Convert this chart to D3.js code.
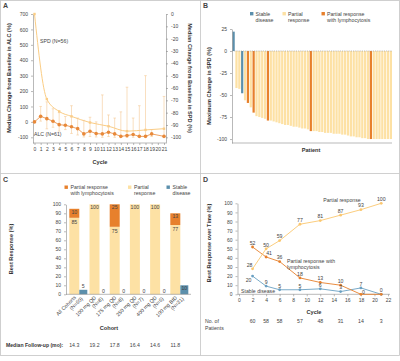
<!DOCTYPE html>
<html><head><meta charset="utf-8">
<script src="https://cdn.jsdelivr.net/npm/d3@7"></script>
<style>
body{margin:0;background:#fff}
svg{display:block}
text{font-family:"Liberation Sans",Arial,sans-serif;fill:#333}
.ax path,.ax line{stroke:#8a8a8a;stroke-width:0.6;fill:none}
.ax text{font-size:5px;fill:#444}
.ttl{font-size:5.6px;font-weight:bold;fill:#333}
.lbl{font-size:5.2px;fill:#444}
.plet{font-size:7px;font-weight:bold;fill:#444}
</style>
</head><body>
<svg id="c" width="400" height="361"></svg>
<script>
// ---------- Panel A data ----------
const cycleTicksA = [0,1,2,3,4,5,6,7,8,9,10,11,12,13,14,15,16,17,18,19,20,21];
const alcTicks = [-100,0,100,200,300,400,500,600,700];
const spdTicks = [0,-10,-20,-30,-40,-50,-60,-70,-80,-90,-100];
const alcCycles = [0,1,2,3,4,5,6,7,8,9,10,11,12,13,14,15,16,17,18,19,21];
const alcMedian = [0,36,21,4,-18,-22,-32,-44,-78,-61,-76,-78,-67,-78,-94,-89,-82,-94,-94,-78,-94];
const alcLow    = [0,5,-45,-35,-60,-50,-75,-85,-98,-95,-98,-100,-95,-100,-100,-100,-100,-100,-100,-95,-100];
const alcHigh   = [0,100,130,85,60,35,105,25,10,30,0,175,45,25,65,225,25,105,300,-50,165];
const spdCycles = [0,2,4,6,9,12,15,18,21];
const spdMedian = [0,-69,-79,-83,-88,-91,-95,-94,-93];

// ---------- Panel B data ----------
const waterfallChange = [22,-42,-43,-48,-56,-59,-64,-70,-74,-75,-76,-77,-79,-79,-80,-81,-82,-83,-84,-84,-85,-86,-86,-87,-88,-88,-89,-91,-91,-91,-92,-92,-93,-93,-93,-94,-94,-94,-95,-95,-96,-97,-97,-98,-98,-99,-99,-100,-100,-100,-100,-100,-100,-100,-100,-100];
const waterfallStatus = ["SD","PR","PR","SD","PR","PRL","PR","PRL","PR","PR","PR","PR","PRL","PR","PR","PR","PR","PR","PR","PR","PR","PR","PR","PR","PR","PR","PR","PRL","PR","PR","PR","PR","PR","PR","PR","PR","PR","PR","PR","PR","PR","PR","PR","PR","PR","PR","PR","PR","PRL","PR","PR","PR","PR","PR","PR","PR"];
const waterfallTicks = [25,0,-25,-50,-75,-100];

// ---------- Panel C data ----------
const cohortLine1 = ["All Cohorts","100 mg QD","175 mg QD","250 mg QD","400 mg QD","100 mg BID"];
const cohortLine2 = ["(N=60)","(N=8)","(N=8)","(N=7)","(N=6)","(N=31)"];
const cohortPR  = [85,100,75,100,100,77];
const cohortPRL = [10,0,25,0,0,13];
const cohortSD  = [5,0,0,0,0,10];
const followUp  = ["14.3","19.2","17.8","16.4","14.6","11.8"];
const pctTicks = [0,10,20,30,40,50,60,70,80,90,100];

// ---------- Panel D data ----------
const timeCycles = [2,4,6,9,12,15,18,21];
const timePR  = [28,50,59,77,81,87,93,100];
const timePRL = [52,41,36,18,13,10,0,0];
const timeSD  = [20,9,5,5,6,3,7,0];
const nPatients = [60,58,58,57,48,31,14,3];
const cycleTicksD = [0,2,4,6,8,10,12,14,16,18,20,22];

const C_PR = "#fde1a4", C_PRL = "#e7802c", C_SD = "#5b8fac";
const C_ALC = "#e8893a", C_SPD = "#fbcd84", C_ERR = "#f5c995";

const svg = d3.select("#c");
const fmt = d => String(d);

// frame
svg.append("rect").attr("x",0.5).attr("y",0.5).attr("width",399).attr("height",355)
  .attr("fill","none").attr("stroke","#c4c4c4").attr("stroke-width",0.8);
svg.append("line").attr("x1",200.5).attr("x2",200.5).attr("y1",0.5).attr("y2",355.5).attr("stroke","#c4c4c4").attr("stroke-width",0.8);
svg.append("line").attr("x1",0.5).attr("x2",399.5).attr("y1",173.5).attr("y2",173.5).attr("stroke","#c4c4c4").attr("stroke-width",0.8);

[["A",3,8],["B",203,8],["C",3,182],["D",203,182]].forEach(([t,x,y])=>
  svg.append("text").attr("class","plet").attr("x",x).attr("y",y).text(t));

// ================= Panel A =================
{
  const xA = d3.scaleLinear().domain([0,21]).range([34.5,164]);
  const yA = d3.scaleLinear().domain([-137,700]).range([143,14]);
  const yA2 = d3.scaleLinear().domain([-104.6,0]).range([143,14]);
  const g = svg.append("g");
  g.append("g").attr("class","ax").attr("transform","translate(33,0)")
    .call(d3.axisLeft(yA).tickValues(alcTicks).tickSize(2).tickSizeOuter(0).tickFormat(fmt));
  g.append("g").attr("class","ax").attr("transform","translate(166,0)")
    .call(d3.axisRight(yA2).tickValues(spdTicks).tickSize(2).tickSizeOuter(0).tickFormat(fmt));
  const xa = g.append("g").attr("class","ax").attr("transform","translate(0,143)")
    .call(d3.axisBottom(xA).tickValues(cycleTicksA).tickSize(2).tickSizeOuter(0).tickFormat(fmt));
  xa.select(".domain").attr("d","M33,0H166");
  xa.selectAll("text").attr("dy","0.6em");

  g.append("text").attr("class","ttl").attr("transform","translate(11,78) rotate(-90)")
    .attr("text-anchor","middle").text("Median Change from Baseline in ALC (%)");
  g.append("text").attr("class","ttl").attr("transform","translate(188,78) rotate(90)")
    .attr("text-anchor","middle").text("Median Change from Baseline in SPD (%)");
  g.append("text").attr("class","ttl").attr("x",100).attr("y",164).attr("text-anchor","middle").text("Cycle");

  // SPD line
  g.append("path").datum(spdCycles.map((c,i)=>[c,spdMedian[i]]))
    .attr("fill","none").attr("stroke",C_SPD).attr("stroke-width",1)
    .attr("d", d3.line().x(d=>xA(d[0])).y(d=>yA2(d[1])).curve(d3.curveMonotoneX));
  g.selectAll(".spdpt").data(spdCycles.map((c,i)=>[c,spdMedian[i]])).join("rect")
    .attr("x",d=>xA(d[0])-1.2).attr("y",d=>yA2(d[1])-1.2).attr("width",2.4).attr("height",2.4)
    .attr("fill",C_SPD);

  // ALC error bars
  const alc = alcCycles.map((c,i)=>({c,m:alcMedian[i],lo:alcLow[i],hi:alcHigh[i]}));
  const eb = g.selectAll(".eb").data(alc.filter(d=>d.hi!==d.lo)).join("g");
  eb.append("line").attr("x1",d=>xA(d.c)).attr("x2",d=>xA(d.c)).attr("y1",d=>yA(d.lo)).attr("y2",d=>yA(d.hi))
    .attr("stroke",C_ERR).attr("stroke-width",0.6);
  eb.append("line").attr("x1",d=>xA(d.c)-1.3).attr("x2",d=>xA(d.c)+1.3).attr("y1",d=>yA(d.hi)).attr("y2",d=>yA(d.hi))
    .attr("stroke",C_ERR).attr("stroke-width",0.6);
  eb.append("line").attr("x1",d=>xA(d.c)-1.3).attr("x2",d=>xA(d.c)+1.3).attr("y1",d=>yA(d.lo)).attr("y2",d=>yA(d.lo))
    .attr("stroke",C_ERR).attr("stroke-width",0.6);
  // ALC line
  g.append("path").datum(alc).attr("fill","none").attr("stroke",C_ALC).attr("stroke-width",0.8)
    .attr("d", d3.line().x(d=>xA(d.c)).y(d=>yA(d.m)));
  g.selectAll(".alcpt").data(alc).join("circle")
    .attr("cx",d=>xA(d.c)).attr("cy",d=>yA(d.m)).attr("r",1.8).attr("fill",C_ALC);

  g.append("text").attr("class","lbl").attr("x",40).attr("y",43).text("SPD (N=56)");
  g.append("text").attr("class","lbl").attr("x",34).attr("y",136).text("ALC (N=61)");
}

// ================= Panel B =================
{
  const xB = d3.scaleBand().domain(d3.range(waterfallChange.length)).range([232.5,392]).paddingInner(0.22).paddingOuter(0);
  const yB = d3.scaleLinear().domain([-104.5,25]).range([143,29]);
  const g = svg.append("g");
  const col = {SD:C_SD, PR:C_PR, PRL:C_PRL};
  g.selectAll("rect.bar").data(waterfallChange.map((v,i)=>({i,v,s:waterfallStatus[i]}))).join("rect")
    .attr("x",d=>xB(d.i)).attr("width",xB.bandwidth())
    .attr("y",d=>yB(Math.max(0,d.v))).attr("height",d=>Math.abs(yB(d.v)-yB(0)))
    .attr("fill",d=>col[d.s]);
  g.append("line").attr("x1",232).attr("x2",392).attr("y1",yB(0)).attr("y2",yB(0))
    .attr("stroke","#999").attr("stroke-width",0.6).attr("stroke-dasharray","1.2,1");
  g.append("g").attr("class","ax").attr("transform","translate(232,0)")
    .call(d3.axisLeft(yB).tickValues(waterfallTicks).tickSize(2).tickSizeOuter(0).tickFormat(fmt));
  g.append("line").attr("x1",232).attr("x2",392).attr("y1",143).attr("y2",143).attr("stroke","#8a8a8a").attr("stroke-width",0.6);
  g.append("text").attr("class","ttl").attr("transform","translate(211,86) rotate(-90)")
    .attr("text-anchor","middle").text("Maximum Change in SPD (%)");
  g.append("text").attr("class","ttl").attr("x",311).attr("y",152).attr("text-anchor","middle").text("Patient");
  // legend
  const leg = [[C_SD,250,["Stable","disease"]],[C_PR,282.5,["Partial","response"]],[C_PRL,321.5,["Partial response","with lymphocytosis"]]];
  leg.forEach(([c,x,t])=>{
    g.append("rect").attr("x",x).attr("y",12).attr("width",3.4).attr("height",3.4).attr("fill",c);
    const tx = g.append("text").attr("class","lbl").attr("x",x+5.5).attr("y",15.5);
    tx.append("tspan").attr("x",x+5.5).text(t[0]);
    tx.append("tspan").attr("x",x+5.5).attr("dy","1.25em").text(t[1]);
  });
}

// ================= Panel C =================
{
  const xC = d3.scaleBand().domain(cohortLine1).range([66,191.6]).paddingInner(0.109).paddingOuter(0.163);
  const yC = d3.scaleLinear().domain([0,100]).range([294.3,204.3]);
  const g = svg.append("g");
  const bw = xC.bandwidth();
  const w1 = bw*10/18, w2 = bw*8/18;
  cohortLine1.forEach((c,i)=>{
    const x0 = xC(c);
    g.append("rect").attr("x",x0).attr("width",w1).attr("y",yC(cohortPR[i])).attr("height",yC(0)-yC(cohortPR[i])).attr("fill",C_PR);
    if (cohortPRL[i]>0) g.append("rect").attr("x",x0).attr("width",w1)
      .attr("y",yC(cohortPR[i]+cohortPRL[i])).attr("height",yC(cohortPR[i])-yC(cohortPR[i]+cohortPRL[i])).attr("fill",C_PRL);
    if (cohortSD[i]>0) g.append("rect").attr("x",x0+w1).attr("width",w2).attr("y",yC(cohortSD[i])).attr("height",yC(0)-yC(cohortSD[i])).attr("fill",C_SD);
    const cx = x0 + w1/2;
    if (cohortPRL[i]>0) {
      g.append("text").attr("class","lbl").attr("x",cx).attr("y",yC(cohortPR[i]+cohortPRL[i])+5).attr("text-anchor","middle").text(cohortPRL[i]);
      g.append("text").attr("class","lbl").attr("x",cx).attr("y",yC(cohortPR[i])+6).attr("text-anchor","middle").text(cohortPR[i]);
    } else {
      g.append("text").attr("class","lbl").attr("x",cx).attr("y",yC(cohortPR[i])+5).attr("text-anchor","middle").text(cohortPR[i]);
    }
    const sx = x0 + w1 + w2/2;
    if (cohortSD[i] >= 10) g.append("text").attr("class","lbl").attr("x",sx).attr("y",yC(cohortSD[i])+5).attr("text-anchor","middle").text(cohortSD[i]);
    else g.append("text").attr("class","lbl").attr("x",sx).attr("y",yC(cohortSD[i])-1.5).attr("text-anchor","middle").text(cohortSD[i]);
    // rotated cohort label
    const t = g.append("text").attr("class","lbl").attr("text-anchor","end")
      .attr("transform",`translate(${x0+bw/2-2},${298}) rotate(-45)`);
    t.append("tspan").attr("x",0).attr("y",0).text(cohortLine1[i]);
    t.append("tspan").attr("x",4).attr("dy","1.1em").text(cohortLine2[i]);
    g.append("text").attr("class","lbl").attr("x",cx).attr("y",347).attr("text-anchor","middle").text(followUp[i]);
  });
  g.append("g").attr("class","ax").attr("transform","translate(66,0)")
    .call(d3.axisLeft(yC).tickValues(pctTicks).tickSize(2).tickSizeOuter(0).tickFormat(fmt));
  g.append("line").attr("x1",66).attr("x2",191).attr("y1",294.3).attr("y2",294.3).attr("stroke","#8a8a8a").attr("stroke-width",0.6);
  g.append("text").attr("class","ttl").attr("transform","translate(13,249) rotate(-90)")
    .attr("text-anchor","middle").text("Best Response (%)");
  g.append("text").attr("class","ttl").attr("x",109).attr("y",330).attr("text-anchor","middle").text("Cohort");
  g.append("text").attr("class","ttl").attr("x",6).attr("y",347).style("font-size","5.1px").text("Median Follow-up (mo):");
  const leg = [[C_PRL,64.5,["Partial response","with lymphocytosis"]],[C_PR,128,["Partial","response"]],[C_SD,166.5,["Stable","disease"]]];
  leg.forEach(([c,x,t])=>{
    g.append("rect").attr("x",x).attr("y",185.5).attr("width",3.4).attr("height",3.4).attr("fill",c);
    const tx = g.append("text").attr("class","lbl").attr("x",x+6).attr("y",189);
    tx.append("tspan").attr("x",x+6).text(t[0]);
    tx.append("tspan").attr("x",x+6).attr("dy","1.2em").text(t[1]);
  });
}

// ================= Panel D =================
{
  const xD = d3.scaleLinear().domain([0,22]).range([239,388]);
  const yD = d3.scaleLinear().domain([0,100]).range([294.3,203.3]);
  const g = svg.append("g");
  g.append("g").attr("class","ax").attr("transform","translate(237.5,0)")
    .call(d3.axisLeft(yD).tickValues(pctTicks).tickSize(2).tickSizeOuter(0).tickFormat(fmt));
  const xa = g.append("g").attr("class","ax").attr("transform","translate(0,294.3)")
    .call(d3.axisBottom(xD).tickValues(cycleTicksD).tickSize(2).tickSizeOuter(0).tickFormat(fmt));
  xa.select(".domain").attr("d","M237.5,0H390");
  xa.selectAll("text").attr("dy","0.6em");
  g.append("text").attr("class","ttl").attr("transform","translate(211,243) rotate(-90)")
    .attr("text-anchor","middle").text("Best Response over Time (%)");
  g.append("text").attr("class","ttl").attr("x",314).attr("y",314).attr("text-anchor","middle").text("Cycle");

  const series = [
    {v:timeSD, c:"#6aa0c2"},
    {v:timePRL, c:C_PRL},
    {v:timePR, c:"#fbc76f"}
  ];
  const line = d3.line().x(d=>xD(d[0])).y(d=>yD(d[1]));
  series.forEach(s=>{
    const pts = timeCycles.map((c,i)=>[c,s.v[i]]);
    g.append("path").datum(pts).attr("fill","none").attr("stroke",s.c).attr("stroke-width",0.9).attr("d",line);
    g.selectAll(null).data(pts).join("circle").attr("cx",d=>xD(d[0])).attr("cy",d=>yD(d[1])).attr("r",1.4).attr("fill",s.c);
  });
  // value labels
  timeCycles.forEach((c,i)=>{
    g.append("text").attr("class","lbl").attr("x",xD(c)+(i===0?-3:0)).attr("y",yD(timePR[i])-2.2).attr("text-anchor","middle").text(timePR[i]);
    if (i<6) g.append("text").attr("class","lbl").attr("x",xD(c)+(i===1?3:0)).attr("y",yD(timePRL[i])-2.2).attr("text-anchor","middle").text(timePRL[i]);
    if (i===6) g.append("text").attr("class","lbl").attr("x",xD(c)+2.5).attr("y",yD(timePRL[i])-0.5).attr("text-anchor","middle").text(timePRL[i]);
    if (i===0) g.append("text").attr("class","lbl").attr("x",xD(c)-4).attr("y",yD(timeSD[i])+6).attr("text-anchor","middle").text(timeSD[i]);
    else g.append("text").attr("class","lbl").attr("x",xD(c)).attr("y",yD(timeSD[i])-2.2).attr("text-anchor","middle").text(timeSD[i]);
    g.append("text").attr("class","lbl").attr("x",xD(c)).attr("y",323).attr("text-anchor","middle").text(nPatients[i]);
  });
  g.append("text").attr("class","lbl").attr("x",342).attr("y",201.5).attr("text-anchor","middle").text("Partial response");
  const t = g.append("text").attr("class","lbl").attr("x",287).attr("y",262.5);
  t.append("tspan").attr("x",287).text("Partial response with");
  t.append("tspan").attr("x",287).attr("dy","1.25em").text("lymphocytosis");
  g.append("text").attr("class","lbl").attr("x",241).attr("y",293).text("Stable disease");
  const n = g.append("text").attr("class","lbl").attr("x",205).attr("y",323);
  n.append("tspan").attr("x",205).text("No. of");
  n.append("tspan").attr("x",205).attr("dy","1.3em").text("Patients");
}
</script>
</body></html>
